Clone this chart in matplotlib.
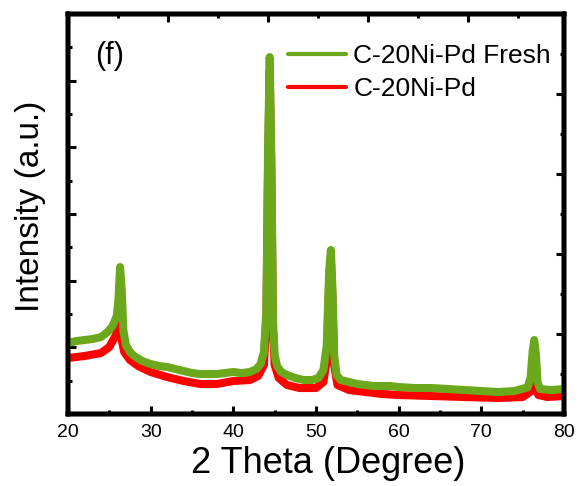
import numpy as np
import matplotlib.pyplot as plt
from matplotlib.ticker import MultipleLocator

plt.rcParams['font.family'] = ['Liberation Sans', 'DejaVu Sans']

# 2 theta (degree) / intensity (a.u.), green = fresh sample
fresh_2theta = [20.0, 21.0, 22.0, 23.0, 24.0, 24.8, 25.4, 25.9, 26.1, 26.3, 26.5, 26.7,
                27.0, 27.5, 28.0, 29.0, 30.0, 31.0, 32.0, 33.0, 34.0, 35.0, 36.0, 37.0,
                38.0, 39.0, 40.0, 41.0, 42.0, 42.8, 43.3, 43.7, 44.0, 44.2, 44.4, 44.6,
                44.8, 45.0, 45.3, 45.8, 46.5, 47.5, 48.5, 49.5, 50.3, 50.9, 51.3, 51.6,
                51.8, 52.0, 52.2, 52.5, 53.0, 54.0, 55.0, 56.0, 57.0, 58.0, 59.0, 60.0,
                62.0, 64.0, 66.0, 68.0, 70.0, 72.0, 74.0, 75.6, 75.95, 76.2, 76.4, 76.6,
                76.8, 77.1, 78.5, 80.0]
fresh_int = [1065, 1095, 1110, 1125, 1155, 1230, 1320, 1470, 1710, 2205, 1860, 1260,
             1035, 930, 870, 795, 750, 720, 705, 675, 645, 615, 600, 600,
             600, 615, 630, 615, 630, 675, 750, 930, 1560, 3960, 5355, 3810,
             1410, 885, 720, 630, 585, 540, 510, 510, 540, 660, 1035, 2160,
             2460, 1860, 885, 585, 510, 480, 450, 435, 420, 420, 420, 405,
             390, 390, 375, 360, 345, 330, 345, 400, 540, 930, 1110, 900,
             480, 375, 360, 375]

# red = used sample
used_2theta = [20.0, 22.0, 24.0, 25.0, 25.8, 26.2, 26.5, 26.8, 27.5, 28.5, 30.0, 32.0,
               34.0, 36.0, 38.0, 40.0, 42.0, 43.0, 43.7, 44.0, 44.2, 44.4, 44.6, 44.8,
               45.0, 45.5, 46.5, 48.0, 50.0, 50.9, 51.3, 51.6, 51.8, 52.0, 52.2, 52.6,
               54.0, 56.0, 58.0, 60.0, 64.0, 68.0, 72.0, 75.0, 75.9, 76.2, 76.4, 76.6,
               76.9, 78.0, 80.0]
used_int = [840, 870, 915, 1005, 1185, 1410, 1110, 930, 810, 720, 630, 555,
            495, 450, 450, 495, 510, 570, 735, 1410, 3660, 5160, 3660, 1260,
            735, 540, 435, 390, 390, 480, 810, 2010, 2310, 1710, 735, 435,
            360, 330, 300, 285, 270, 255, 240, 255, 330, 510, 555, 420,
            285, 255, 270]

labels = ['C-20Ni-Pd Fresh', 'C-20Ni-Pd']
colors = ['#6CA81C', '#FF0000']

fig = plt.figure(figsize=(5.8, 4.86), dpi=100)
ax = fig.add_axes([0.1172, 0.1481, 0.8552, 0.823])

ax.plot(used_2theta, used_int, color=colors[1], lw=5.8, solid_joinstyle='round',
        solid_capstyle='round', label=labels[1], zorder=2)
ax.plot(fresh_2theta, fresh_int, color=colors[0], lw=5.8, solid_joinstyle='round',
        solid_capstyle='round', label=labels[0], zorder=3)

ax.set_xlim(20, 80)
ax.set_ylim(0, 6000)
ax.xaxis.set_major_locator(MultipleLocator(10))
ax.xaxis.set_minor_locator(MultipleLocator(5))
ax.yaxis.set_major_locator(MultipleLocator(1000))
ax.yaxis.set_minor_locator(MultipleLocator(500))
ax.set_yticklabels([])
ax.tick_params(which='major', direction='in', length=6, width=2.2, labelsize=14, pad=7)
ax.tick_params(which='minor', direction='in', length=3, width=2.2)
for s in ax.spines.values():
    s.set_linewidth(3.2)

# Origin-style top/right axes with their own tick spacing
axt = ax.twiny()
axt.set_xlim(0, 4.96)
axt.xaxis.set_major_locator(MultipleLocator(1))
axt.xaxis.set_minor_locator(MultipleLocator(0.5))
axt.tick_params(which='major', direction='in', length=6, width=2.2, labeltop=False)
axt.tick_params(which='minor', direction='in', length=3, width=2.2)
axr = ax.twinx()
axr.set_ylim(0, 5)
axr.yaxis.set_major_locator(MultipleLocator(1))
axr.yaxis.set_minor_locator(MultipleLocator(0.5))
axr.tick_params(which='major', direction='in', length=6, width=2.2, labelright=False)
axr.tick_params(which='minor', direction='in', length=3, width=2.2)
for a in (axt, axr):
    for s in a.spines.values():
        s.set_linewidth(3.2)

ax.set_xlabel('2 Theta (Degree)', fontsize=26)
ax.set_ylabel('Intensity (a.u.)', fontsize=24)
ax.xaxis.set_label_coords(0.524, -0.08)
ax.yaxis.set_label_coords(-0.045, 0.52)

ax.text(0.054, 0.895, '(f)', transform=ax.transAxes, fontsize=22, va='center', ha='left')

handles, labs = ax.get_legend_handles_labels()
leg = ax.legend(handles[::-1], labs[::-1], loc='upper left', bbox_to_anchor=(0.4435, 0.925),
                frameon=False, fontsize=19, borderpad=0, borderaxespad=0,
                handlelength=2.2, handletextpad=0.28, labelspacing=0.33)
for h in leg.get_lines():
    h.set_linewidth(3)

fig.savefig('out.png', dpi=100)
